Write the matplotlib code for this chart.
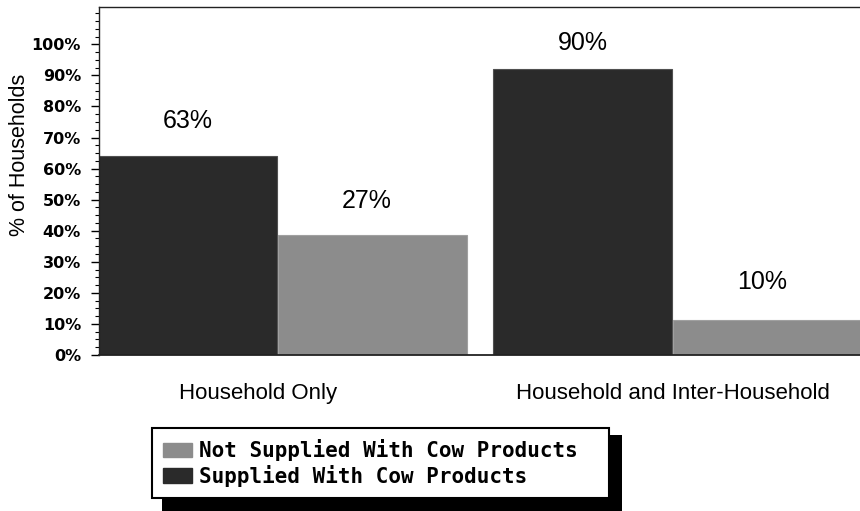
import matplotlib
matplotlib.use("Agg")
import matplotlib.pyplot as plt
from matplotlib.patches import Patch, Rectangle
from matplotlib.ticker import MultipleLocator

# ---- data ----
categories = ["Household Only", "Household and Inter-Household"]
supplied_heights = [64.0, 92.0]          # drawn bar heights (% of households)
not_supplied_heights = [38.5, 11.3]
supplied_labels = ["63%", "90%"]         # printed value labels
not_supplied_labels = ["27%", "10%"]
series_names = ["Not Supplied With Cow Products", "Supplied With Cow Products"]
y_ticks = [0, 10, 20, 30, 40, 50, 60, 70, 80, 90, 100]
y_tick_labels = [f"{v}%" for v in y_ticks]

# ---- style ----
dark = "#2a2a2a"
gray = "#8c8c8c"
W, H = 860, 511
fig = plt.figure(figsize=(W / 100, H / 100), dpi=100)
ax = fig.add_axes([99 / W, 1 - 355 / H, (W - 99) / W, (355 - 7) / H])

group_x = [0.96, 3.12]
bw_s = 0.98
bw_n = 1.03
sx = [g - bw_s / 2 - 0.005 for g in group_x]
nx = [g + bw_n / 2 for g in group_x]
ax.bar(sx, supplied_heights, width=bw_s, color=dark, edgecolor="#505050", linewidth=0.8, zorder=2)
ax.bar(nx, not_supplied_heights, width=bw_n, color=gray, edgecolor="#a0a0a0", linewidth=0.8, zorder=2)

lab_font = dict(family=["Liberation Sans", "DejaVu Sans"], fontsize=18)
s_off = [11.2, 8.3]
n_off = [11.0, 12.3]
for x, h, t, o in zip(sx, supplied_heights, supplied_labels, s_off):
    ax.text(x, h + o, t, ha="center", va="center", **lab_font)
for x, h, t, o in zip(nx, not_supplied_heights, not_supplied_labels, n_off):
    ax.text(x - 0.03, h + o, t, ha="center", va="center", **lab_font)

ax.set_xlim(-0.02, 4.14)
ax.set_ylim(0, 112)

ax.set_yticks(y_ticks)
ax.set_yticklabels(y_tick_labels, fontsize=11.5, fontweight="bold", family="DejaVu Sans")
ax.yaxis.set_minor_locator(MultipleLocator(2.5))
ax.tick_params(axis="y", which="major", length=6, width=1, direction="out", pad=7)
ax.tick_params(axis="y", which="minor", length=3, width=0.8, direction="out")

label_offsets = [-0.11, 0.0]
ax.set_xticks([g + o for g, o in zip(group_x, label_offsets)])
ax.set_xticklabels(categories, family=["Liberation Sans", "DejaVu Sans"], fontsize=16)
ax.tick_params(axis="x", length=0, pad=20)

for s in ["left", "top", "bottom"]:
    ax.spines[s].set_color("#222222")
    ax.spines[s].set_linewidth(1.0)
ax.spines["bottom"].set_linewidth(1.3)
ax.spines["right"].set_visible(False)

fig.text(20 / W, 1 - 155 / H, "% of Households", rotation=90, ha="center", va="center",
         family=["Liberation Sans", "DejaVu Sans"], fontsize=15.5)

handles = [Patch(facecolor=gray, edgecolor=gray), Patch(facecolor=dark, edgecolor=dark)]
leg = fig.legend(handles, series_names, loc="upper left",
                 bbox_to_anchor=(152 / W, 1 - 428 / H, 457 / W, 0), mode="expand",
                 borderaxespad=0, prop=dict(family="DejaVu Sans Mono", weight="bold", size=15),
                 handlelength=1.35, handleheight=0.7, handletextpad=0.35, labelspacing=0.15,
                 borderpad=0.55, fancybox=False, frameon=True)
leg.get_frame().set_edgecolor("black")
leg.get_frame().set_linewidth(1.5)
leg.get_frame().set_facecolor("white")
leg.get_frame().set_alpha(1)
leg.set_zorder(5)

fig.canvas.draw()
bb = leg.get_window_extent()
shadow = Rectangle((bb.x0 + 10, -20), bb.width + 3, (bb.y1 - 7) + 20,
                   transform=None, facecolor="black", edgecolor="none", zorder=4)
fig.patches.append(shadow)

fig.savefig("out.png", dpi=100)
